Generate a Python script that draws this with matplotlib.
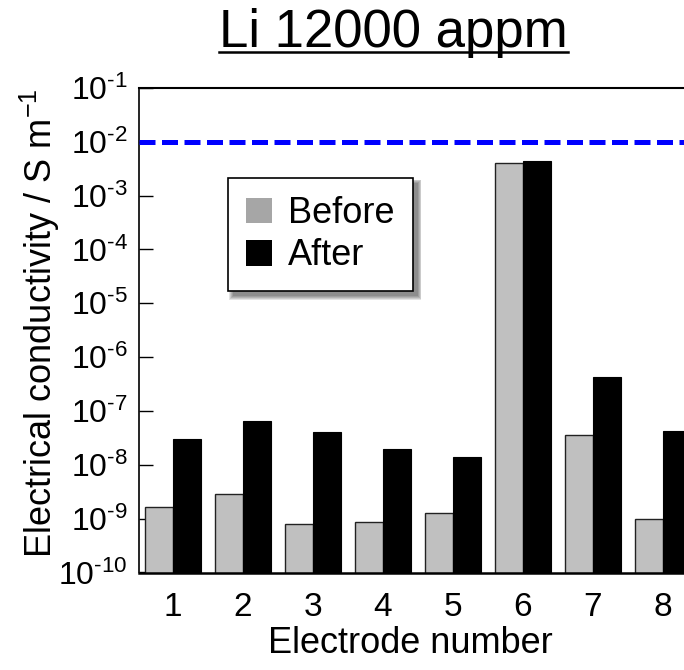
import matplotlib
matplotlib.use("Agg")
import matplotlib.pyplot as plt
from matplotlib.patches import Rectangle, Patch
from matplotlib.lines import Line2D
from matplotlib.ticker import NullLocator
import numpy as np

plt.rcParams['font.family'] = ['Liberation Sans', 'DejaVu Sans']
plt.rcParams['mathtext.fontset'] = 'custom'
plt.rcParams['mathtext.rm'] = 'Liberation Sans'
plt.rcParams['mathtext.it'] = 'Liberation Sans:italic'
plt.rcParams['mathtext.bf'] = 'Liberation Sans:bold'

electrodes = [1, 2, 3, 4, 5, 6, 7, 8]
before = [1.63e-9, 2.9e-9, 8.0e-10, 8.8e-10, 1.29e-9, 4.0e-3, 3.55e-8, 1.0e-9]
after = [3.0e-8, 6.6e-8, 4.0e-8, 2.0e-8, 1.42e-8, 4.4e-3, 4.3e-7, 4.2e-8]
threshold = 1e-2

ytick_values = [1e-10, 1e-9, 1e-8, 1e-7, 1e-6, 1e-5, 1e-4, 1e-3, 1e-2, 1e-1]
ytick_labels = ['10$^{\\text{-10}}$', '10$^{\\text{-9}}$', '10$^{\\text{-8}}$',
                '10$^{\\text{-7}}$', '10$^{\\text{-6}}$', '10$^{\\text{-5}}$',
                '10$^{\\text{-4}}$', '10$^{\\text{-3}}$', '10$^{\\text{-2}}$',
                '10$^{\\text{-1}}$']

W, H = 684, 670
fig = plt.figure(figsize=(W / 100, H / 100), dpi=100)
ax = fig.add_axes([139 / W, (H - 572.5) / H, 558 / W, 484.5 / H])

x = np.array(electrodes, dtype=float)
w = 0.405
ax.bar(x - w / 2, before, w, color='#c0c0c0', edgecolor='#222222', linewidth=1.0,
       label='Before', zorder=2)
ax.bar(x + w / 2, after, w, color='black', edgecolor='black', linewidth=0.8,
       label='After', zorder=2)

ax.axhline(threshold, color='#0000ff', linewidth=3.6, linestyle=(0, (3.2, 1.3)),
           zorder=3)

ax.set_yscale('log')
ax.set_ylim(1e-10, 1e-1)
ax.set_xlim(0.514, 8.486)
ax.set_yticks(ytick_values)
ax.set_yticklabels(ytick_labels)
ax.yaxis.set_minor_locator(NullLocator())
ax.set_xticks(electrodes)
ax.set_xticklabels([str(e) for e in electrodes])

ax.tick_params(axis='y', direction='in', length=10, width=1.0, labelsize=23, pad=8)
ax.tick_params(axis='x', length=0, labelsize=24, pad=14)
ax.spines['bottom'].set_linewidth(1.8)
ax.spines['left'].set_linewidth(1.2)
ax.spines['top'].set_linewidth(1.5)
ax.spines['right'].set_linewidth(1.5)

handles = [Patch(facecolor='#a6a6a6', edgecolor='none'),
           Patch(facecolor='black', edgecolor='none')]
leg = ax.legend(handles, ['Before', 'After'], loc='upper left',
                bbox_to_anchor=(0.1595, 0.814), borderaxespad=0,
                fontsize=26, frameon=True, fancybox=False, framealpha=1,
                edgecolor='black', handlelength=0.72, handleheight=0.72,
                handletextpad=0.45, labelspacing=0.2, borderpad=0.5)
leg.get_frame().set_linewidth(1.2)
leg.set_zorder(10)

fig.text(393.5 / W, 1 - 47 / H, 'Li 12000 appm', ha='center', va='baseline',
         fontsize=38)
fig.text(410 / W, 1 - 653 / H, 'Electrode number', ha='center', va='baseline',
         fontsize=26)
fig.text(40 / W, 1 - 323 / H, 'Electrical conductivity / S m$^{-1}$',
         rotation=90, ha='center', va='center', fontsize=26)

# underline the title and put a soft shadow behind the legend
fig.canvas.draw()
tb = fig.texts[0].get_window_extent()
fig.add_artist(Line2D([tb.x0 / W, tb.x1 / W], [1 - 52 / H, 1 - 52 / H],
                      transform=fig.transFigure, color='black', linewidth=1.8))

lb = leg.get_window_extent().transformed(ax.transAxes.inverted())
px, py = 1 / 558, 1 / 484.5
for i in range(5):
    grow = i * 0.9
    ax.add_patch(Rectangle((lb.x0 + (5 - grow) * px, lb.y0 - (5 + grow) * py),
                           lb.width + 2 * grow * px, lb.height + 2 * grow * py,
                           transform=ax.transAxes, facecolor='black',
                           edgecolor='none', alpha=0.11, zorder=9,
                           clip_on=False))

fig.savefig('out.png', dpi=100)
